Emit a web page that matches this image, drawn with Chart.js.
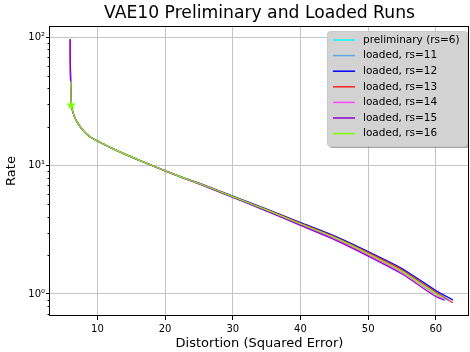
<!DOCTYPE html>
<html>
<head>
<meta charset="utf-8">
<script src="https://cdn.jsdelivr.net/npm/chart.js@4.4.0/dist/chart.umd.min.js"></script>
<style>
  html, body { margin: 0; padding: 0; background: #fff; }
  #wrap { width: 470px; height: 352px; }
</style>
</head>
<body>
<div id="wrap"><canvas id="rdChart" width="470" height="352"></canvas></div>
<script>
// series: distortion (x) and rate (y)
const seriesNames = ['preliminary (rs=6)', 'loaded, rs=11', 'loaded, rs=12', 'loaded, rs=13',
                     'loaded, rs=14', 'loaded, rs=15', 'loaded, rs=16'];
const seriesColors = ['#00ffff', '#64a8e8', '#0000ff', '#ff2020', '#ff44ff', '#9400d3', '#7cfc00'];

const distPrelim = [6.0, 6.0, 6.03, 6.06, 6.1, 6.15, 6.3, 6.7, 7.2, 7.7, 8.4, 9.0, 10, 11, 12.2, 14.3, 17.3, 20, 22.2, 25, 30, 35, 40, 45, 50, 55, 60, 61.7];
const ratePrelim = [96, 70, 50, 40, 32, 29.5, 27, 23.3, 21, 19.3, 17.6, 16.6, 15.5, 14.6, 13.6, 12.1, 10.4, 9.1, 8.2, 7.25, 5.70, 4.50, 3.50, 2.74, 2.06, 1.50, 1.01, 0.89];

const dist11 = [6.0, 6.0, 6.03, 6.06, 6.1, 6.15, 6.3, 6.7, 7.2, 7.7, 8.4, 9.0, 10, 11, 12.2, 14.3, 17.3, 20, 22.2, 25, 30, 35, 40, 45, 50, 55, 60, 62.6];
const rate11 = [96, 70, 50, 40, 32, 29.5, 27, 23.3, 21, 19.3, 17.6, 16.6, 15.5, 14.6, 13.6, 12.1, 10.4, 9.1, 8.22, 7.28, 5.76, 4.57, 3.58, 2.82, 2.12, 1.56, 1.05, 0.89];

const dist12 = [6.0, 6.0, 6.03, 6.06, 6.1, 6.15, 6.3, 6.7, 7.2, 7.7, 8.4, 9.0, 10, 11, 12.2, 14.3, 17.3, 20, 22.2, 25, 30, 35, 40, 45, 50, 55, 60, 62.5];
const rate12 = [96, 70, 50, 40, 32, 29.5, 27, 23.3, 21, 19.3, 17.6, 16.6, 15.5, 14.6, 13.6, 12.1, 10.4, 9.12, 8.24, 7.30, 5.78, 4.59, 3.60, 2.84, 2.14, 1.58, 1.065, 0.90];

const dist13 = [6.0, 6.0, 6.03, 6.06, 6.1, 6.15, 6.3, 6.7, 7.2, 7.7, 8.4, 9.0, 10, 11, 12.2, 14.3, 17.3, 20, 22.2, 25, 30, 35, 40, 45, 50, 55, 60, 62.5];
const rate13 = [96, 70, 50, 40, 32, 29.5, 27, 23.3, 21, 19.3, 17.6, 16.6, 15.5, 14.6, 13.6, 12.1, 10.4, 9.1, 8.21, 7.27, 5.74, 4.55, 3.55, 2.79, 2.10, 1.54, 1.035, 0.855];

const dist14 = [6.0, 6.0, 6.03, 6.06, 6.1, 6.15, 6.3, 6.7, 7.2, 7.7, 8.4, 9.0, 10, 11, 12.2, 14.3, 17.3, 20, 22.2, 25, 30, 35, 40, 45, 50, 55, 60, 61.2];
const rate14 = [96, 70, 50, 40, 32, 29.5, 27, 23.3, 21, 19.3, 17.6, 16.6, 15.5, 14.6, 13.6, 12.1, 10.4, 9.08, 8.18, 7.23, 5.68, 4.47, 3.47, 2.71, 2.02, 1.47, 0.99, 0.90];

const dist15 = [6.0, 6.0, 6.03, 6.06, 6.1, 6.15, 6.3, 6.7, 7.2, 7.7, 8.4, 9.0, 10, 11, 12.2, 14.3, 17.3, 20, 22.2, 25, 30, 35, 40, 45, 50, 55, 60, 61.3];
const rate15 = [96, 70, 50, 40, 32, 29.5, 27, 23.3, 21, 19.3, 17.6, 16.6, 15.5, 14.6, 13.6, 12.1, 10.4, 9.06, 8.14, 7.19, 5.64, 4.42, 3.42, 2.65, 1.97, 1.43, 0.955, 0.89];

const dist16 = [6.06, 6.08, 6.1, 6.12, 6.3, 6.7, 7.2, 7.7, 8.4, 9.0, 10, 11, 12.2, 14.3, 17.3, 20, 22.2, 25, 30, 35, 40, 45, 50, 55, 60, 61.0];
const rate16 = [45, 38, 33, 29.6, 27, 23.3, 21, 19.3, 17.6, 16.6, 15.5, 14.6, 13.6, 12.1, 10.4, 9.1, 8.2, 7.25, 5.72, 4.52, 3.52, 2.76, 2.06, 1.50, 1.00, 0.94];
const starIndex16 = 3;

const allDist = [distPrelim, dist11, dist12, dist13, dist14, dist15, dist16];
const allRate = [ratePrelim, rate11, rate12, rate13, rate14, rate15, rate16];

const xTickValues = [10, 20, 30, 40, 50, 60];
const yTickValues = [1, 10, 100];
const yTickLabels = ['10\u2070', '10\u00b9', '10\u00b2'];
const yMinorValues = [0.7, 0.8, 0.9, 2, 3, 4, 5, 6, 7, 8, 9, 20, 30, 40, 50, 60, 70, 80, 90];

const gridColor = '#c4c4c4';

Chart.defaults.font.family = "'DejaVu Sans', sans-serif";
Chart.defaults.color = '#000';

function isMajor(v) {
    return yTickValues.indexOf(v) !== -1;
}

// filled five-point star like matplotlib's '*' marker
function makeStar(color) {
    const c = document.createElement('canvas');
    c.width = 11;
    c.height = 11;
    const g = c.getContext('2d');
    g.fillStyle = color;
    g.beginPath();
    for (let k = 0; k < 10; k++) {
        const rr = k % 2 === 0 ? 5 : 2.1;
        const ang = -Math.PI / 2 + k * Math.PI / 5;
        const px = 5.5 + rr * Math.cos(ang);
        const py = 5.8 + rr * Math.sin(ang);
        if (k === 0) g.moveTo(px, py); else g.lineTo(px, py);
    }
    g.closePath();
    g.fill();
    return c;
}
const starImg = makeStar(seriesColors[6]);

const datasets = seriesNames.map((name, i) => {
    const points = allDist[i].map((d, j) => ({ x: d, y: allRate[i][j] }));
    const ds = {
        label: name,
        data: points,
        showLine: true,
        borderColor: seriesColors[i],
        backgroundColor: seriesColors[i],
        borderWidth: 1.2,
        pointRadius: 0,
        tension: 0.2,
        order: seriesNames.length - i
    };
    if (i === 6) {
        ds.pointRadius = points.map((p, j) => j === starIndex16 ? 5 : 0);
        ds.pointStyle = starImg;
    }
    return ds;
});

// frame, minor ticks and the matplotlib-style legend
const extras = {
    id: 'extras',
    afterDatasetsDraw(chart) {
        const ctx = chart.ctx;
        const a = chart.chartArea;
        const y = chart.scales.y;
        ctx.save();
        ctx.strokeStyle = '#000';
        ctx.lineWidth = 1;
        ctx.strokeRect(Math.round(a.left) - 0.5, Math.round(a.top) + 0.5,
                       Math.round(a.right - a.left), Math.round(a.bottom - a.top) - 1);

        yMinorValues.forEach(v => {
            const py = Math.round(y.getPixelForValue(v)) + 0.5;
            ctx.beginPath();
            ctx.moveTo(a.left - 2.5, py);
            ctx.lineTo(a.left, py);
            ctx.stroke();
        });

        // legend box
        const bx = 327, by = 31, bw = 140, bh = 115, r = 3;
        ctx.fillStyle = 'rgba(0,0,0,0.35)';
        ctx.beginPath();
        ctx.roundRect(bx + 2, by + 2, bw, bh, r);
        ctx.fill();
        ctx.fillStyle = '#d3d3d3';
        ctx.strokeStyle = '#c8c8c8';
        ctx.beginPath();
        ctx.roundRect(bx + 0.5, by + 0.5, bw, bh, r);
        ctx.fill();
        ctx.stroke();

        ctx.font = "10.5px 'DejaVu Sans'";
        ctx.textBaseline = 'middle';
        ctx.textAlign = 'left';
        seriesNames.forEach((name, i) => {
            const ly = by + 9 + i * 15.6;
            ctx.strokeStyle = seriesColors[i];
            ctx.lineWidth = 1.5;
            ctx.beginPath();
            ctx.moveTo(333, ly);
            ctx.lineTo(355, ly);
            ctx.stroke();
            ctx.fillStyle = '#000';
            ctx.fillText(name, 363, ly);
        });
        ctx.restore();
    }
};

const rdChart = new Chart(document.getElementById('rdChart').getContext('2d'), {
    type: 'scatter',
    data: { datasets: datasets },
    options: {
        responsive: false,
        animation: false,
        layout: { padding: { left: 0, right: 1, top: 0, bottom: 0 } },
        plugins: {
            legend: { display: false },
            tooltip: { enabled: false },
            title: {
                display: true,
                fullSize: false,
                text: 'VAE10 Preliminary and Loaded Runs',
                color: '#000',
                font: { size: 17.2, weight: 'normal' },
                padding: { top: 3.7, bottom: 1.7 }
            }
        },
        scales: {
            x: {
                type: 'linear',
                min: 3.0,
                max: 64.9,
                afterFit: s => { s.height = 36; },
                afterBuildTicks: s => { s.ticks = xTickValues.map(v => ({ value: v })); },
                grid: { color: gridColor, lineWidth: 1, tickColor: '#000', tickLength: 4 },
                border: { display: false },
                ticks: { font: { size: 10 }, color: '#000', padding: 3, maxRotation: 0, autoSkip: false },
                title: {
                    display: true,
                    text: 'Distortion (Squared Error)',
                    font: { size: 13 },
                    color: '#000',
                    padding: { top: 0, bottom: 0.9 }
                }
            },
            y: {
                type: 'logarithmic',
                min: 0.674,
                max: 121.8,
                afterFit: s => { s.width = 50; },
                afterBuildTicks: s => {
                    s.ticks = yTickValues.concat(yMinorValues).sort((p, q) => p - q).map(v => ({ value: v }));
                },
                grid: {
                    color: c => (c.tick && isMajor(c.tick.value)) ? gridColor : 'transparent',
                    tickColor: c => (c.tick && isMajor(c.tick.value)) ? '#000' : 'transparent',
                    lineWidth: 1,
                    tickLength: 4
                },
                border: { display: false },
                ticks: {
                    font: { size: 10 },
                    color: '#000',
                    padding: 1,
                    autoSkip: false,
                    callback: v => isMajor(v) ? yTickLabels[yTickValues.indexOf(v)] : ''
                },
                title: {
                    display: true,
                    text: 'Rate',
                    font: { size: 13 },
                    color: '#000',
                    padding: { top: 4.2, bottom: 0 }
                }
            }
        }
    },
    plugins: [extras]
});
</script>
</body>
</html>
